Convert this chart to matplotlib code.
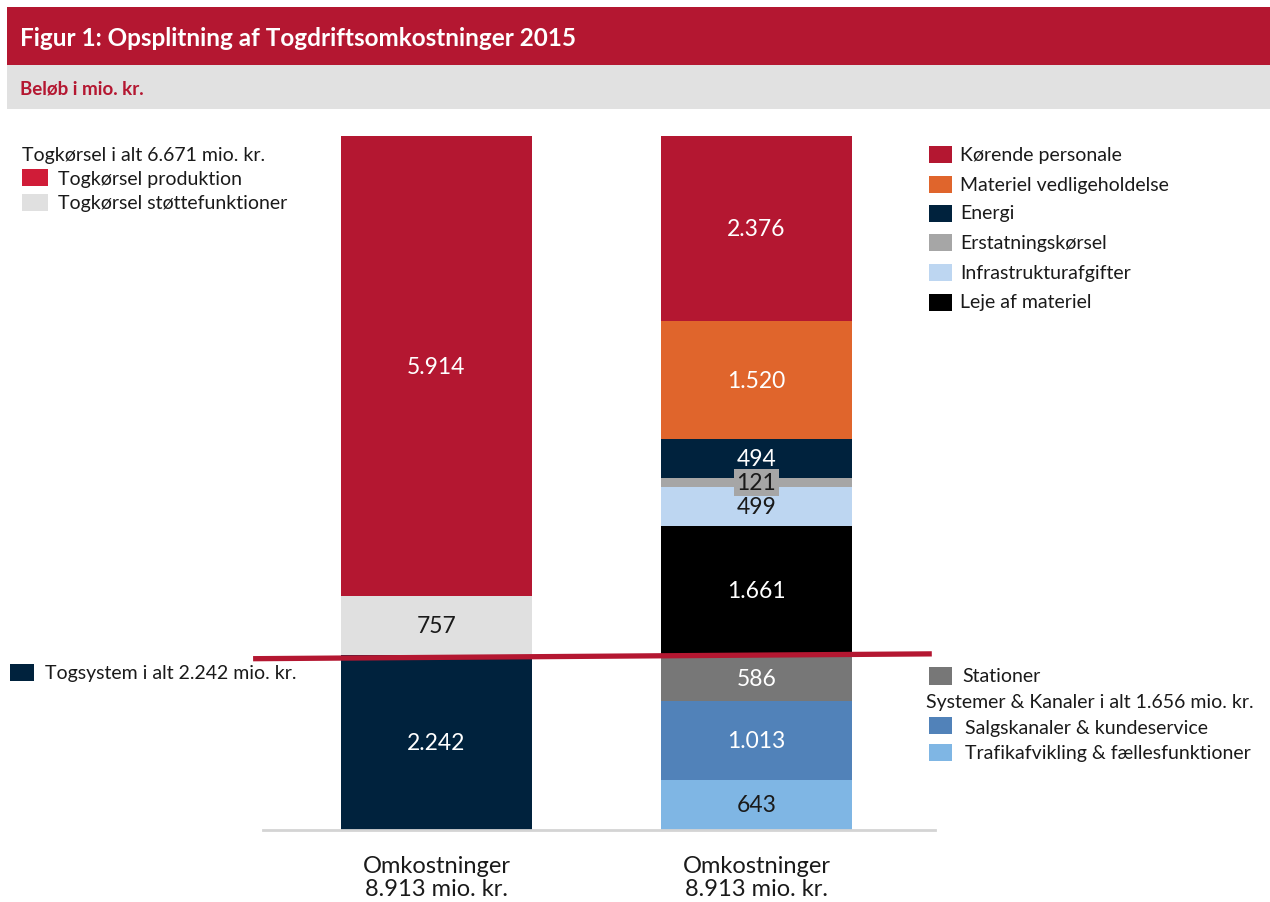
import matplotlib.pyplot as plt
from matplotlib.patches import Rectangle

plt.rcParams['font.family'] = ['Lato', 'DejaVu Sans']

# data (mio. kr.)
left_labels = ['Togsystem', 'Togkørsel støttefunktioner', 'Togkørsel produktion']
left_values = [2242, 757, 5914]
left_colors = ['#00223D', '#E0E0E0', '#B41731']

right_labels = ['Trafikafvikling & fællesfunktioner', 'Salgskanaler & kundeservice',
                'Stationer', 'Leje af materiel', 'Infrastrukturafgifter',
                'Erstatningskørsel', 'Energi', 'Materiel vedligeholdelse',
                'Kørende personale']
right_values = [643, 1013, 586, 1661, 499, 121, 494, 1520, 2376]
right_colors = ['#7FB6E4', '#5182B9', '#777777', '#000000', '#BDD6F1',
                '#A6A6A6', '#00223D', '#E0652C', '#B41731']

categories = ['Omkostninger', 'Omkostninger']


def kr(v):
    return f'{v:,}'.replace(',', '.')


W, H = 1270, 903
fig = plt.figure(figsize=(W / 100, H / 100), dpi=100)


def fx(px):
    return px / W


def fy(py):
    return 1 - py / H


def box(x0, y0, x1, y1, color):
    fig.add_artist(Rectangle((fx(x0), fy(y1)), fx(x1) - fx(x0), fy(y0) - fy(y1),
                             transform=fig.transFigure, facecolor=color,
                             edgecolor='none'))


# header banners
box(7, 8, W, 66, '#B41731')
box(7, 66, W, 110, '#E1E1E1')
fig.text(fx(20), fy(38), 'Figur 1: Opsplitning af Togdriftsomkostninger 2015',
         color='white', fontsize=17.5, fontweight='bold', va='center')
fig.text(fx(20), fy(89), 'Beløb i mio. kr.', color='#B41731', fontsize=13.5,
         fontweight='bold', va='center')

# axes
ax = fig.add_axes([fx(263), fy(831), fx(935) - fx(263), fy(120) - fy(831)])
ax.set_xlim(-0.542, 1.558)
ax.set_ylim(0, 9131)
for s in ['top', 'left', 'right']:
    ax.spines[s].set_visible(False)
ax.spines['bottom'].set_color('#D4D4D4')
ax.spines['bottom'].set_linewidth(2)
ax.set_yticks([])
ax.set_xticks([0, 1])
ax.set_xticklabels([f'{c}\n{kr(sum(left_values))} mio. kr.' for c in categories],
                   fontsize=17, color='#1a1a1a', linespacing=1.1)
ax.tick_params(axis='x', length=0, pad=18)

width = 0.597
dark_text = {'Togkørsel støttefunktioner', 'Infrastrukturafgifter',
             'Erstatningskørsel', 'Trafikafvikling & fællesfunktioner'}

for xpos, labels, values, colors in [(0, left_labels, left_values, left_colors),
                                     (1, right_labels, right_values, right_colors)]:
    bottom = 0
    for lab, v, c in zip(labels, values, colors):
        ax.bar(xpos, v, width, bottom=bottom, color=c, edgecolor='none')
        tc = '#1a1a1a' if lab in dark_text else 'white'
        kw = {}
        if lab == 'Erstatningskørsel':
            kw['bbox'] = dict(boxstyle='square,pad=0.12', facecolor=c, edgecolor='none')
        ax.text(xpos, bottom + v / 2, kr(v), ha='center', va='center',
                color=tc, fontsize=16.5, **kw)
        bottom += v

# red dividing line
ax.plot([-0.573, 1.548], [2200, 2262], color='#B41731', lw=3.8,
        clip_on=False, solid_capstyle='butt')

txt = '#1a1a1a'
fs = 14

# left top legend
fig.text(fx(22), fy(155), f'Togkørsel i alt {kr(left_values[1] + left_values[2])} mio. kr.',
         fontsize=fs, color=txt, va='center')
box(22, 170, 48, 187, '#D01C38')
fig.text(fx(58), fy(179), left_labels[2], fontsize=fs, color=txt, va='center')
box(22, 195, 48, 212, left_colors[1])
fig.text(fx(58), fy(204), left_labels[1], fontsize=fs, color=txt, va='center')

# left lower legend
box(10, 665, 34, 682, left_colors[0])
fig.text(fx(45), fy(674), f'{left_labels[0]} i alt {kr(left_values[0])} mio. kr.',
         fontsize=fs, color=txt, va='center')

# right top legend
ys = [155, 185, 214, 243, 273, 303]
for i, y in enumerate(ys):
    idx = 8 - i
    box(929, y - 8, 952, y + 9, right_colors[idx])
    fig.text(fx(960), fy(y), right_labels[idx], fontsize=fs, color=txt, va='center')

# right bottom legend
box(929, 668, 952, 686, right_colors[2])
fig.text(fx(962), fy(677), right_labels[2], fontsize=fs, color=txt, va='center')
fig.text(fx(926), fy(703),
         f'Systemer & Kanaler i alt {kr(right_values[0] + right_values[1])} mio. kr.',
         fontsize=fs, color=txt, va='center')
box(929, 718, 952, 735, right_colors[1])
fig.text(fx(965), fy(729), right_labels[1], fontsize=fs, color=txt, va='center')
box(929, 745, 952, 762, right_colors[0])
fig.text(fx(965), fy(754), right_labels[0], fontsize=fs, color=txt, va='center')

fig.savefig('out.png', dpi=100, facecolor='white')
